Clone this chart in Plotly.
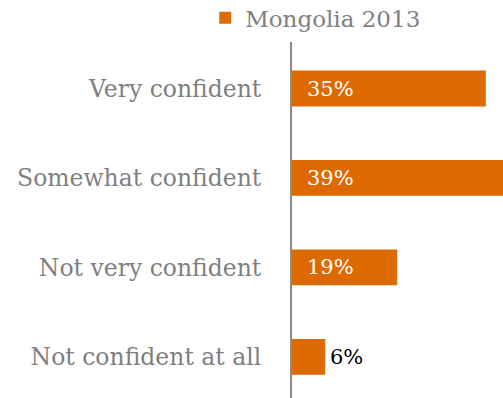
import plotly.graph_objects as go

categories = ["Very confident", "Somewhat confident", "Not very confident", "Not confident at all"]
values = [35, 39, 19, 6]
labels = ["35%", "39%", "19%", "6%"]
series_name = "Mongolia 2013"

BAR = "#DD6A00"
GRAY = "#7F7F7F"
FONT = "DejaVu Serif"

fig = go.Figure()
fig.add_trace(go.Bar(
    y=categories, x=values, orientation="h", name=series_name,
    marker=dict(color=BAR, line=dict(width=0)),
    showlegend=True,
))

annotations = []
for c, v, t in zip(categories, values, labels):
    inside = v >= 10
    annotations.append(dict(
        x=0 if inside else v, y=c, xref="x", yref="y", text=t, showarrow=False,
        xanchor="left", yanchor="middle", xshift=13 if inside else 3,
        font=dict(family=FONT, size=21, color="white" if inside else "black"),
    ))

fig.update_layout(
    width=503, height=398,
    margin=dict(l=292, r=0, t=42, b=0),
    paper_bgcolor="white", plot_bgcolor="white",
    bargap=0.6,
    font=dict(family=FONT, size=23.5, color=GRAY),
    legend=dict(orientation="h", x=0.408, xref="container", y=0.955, yref="container",
                xanchor="left", yanchor="middle",
                font=dict(family=FONT, size=23, color=GRAY),
                itemwidth=30),
    annotations=annotations,
    xaxis=dict(range=[0, 38.1], showgrid=False, zeroline=False, showticklabels=False,
               showline=False, fixedrange=True),
    yaxis=dict(categoryorder="array", categoryarray=categories, range=[3.46, -0.52],
               showgrid=False, zeroline=False, showline=True, linecolor="#8C8C8C",
               linewidth=2, ticks="", ticklabelstandoff=24,
               tickfont=dict(family=FONT, size=23.5, color=GRAY)),
)

fig.write_html("out.html")
